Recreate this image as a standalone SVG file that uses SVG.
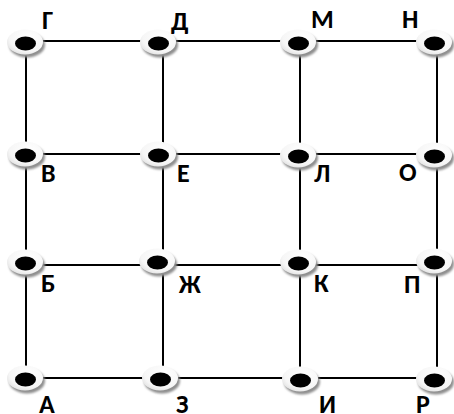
<svg xmlns="http://www.w3.org/2000/svg" width="454" height="414" viewBox="0 0 454 414">
<defs>
<radialGradient id="rg" cx="0.6" cy="0.35" r="0.75">
<stop offset="0" stop-color="#ffffff"/>
<stop offset="0.7" stop-color="#f6f6f6"/>
<stop offset="1" stop-color="#dcdcdc"/>
</radialGradient>
<filter id="blur" x="-30%" y="-30%" width="160%" height="160%"><feGaussianBlur stdDeviation="0.8"/></filter>
<g id="node">
<ellipse cx="2" cy="3" rx="18" ry="12.5" fill="#8f8f8f" filter="url(#blur)"/>
<ellipse cx="0" cy="0" rx="18" ry="12.5" fill="url(#rg)"/>
<ellipse cx="0.5" cy="1.5" rx="10.5" ry="7" fill="#000"/>
</g>
</defs>
<style>
.ln{stroke:#000;stroke-width:2;fill:none}
.lb{font-family:Carlito,Roboto,"Liberation Sans",sans-serif;font-weight:bold;font-size:26px;fill:#000}
</style>
<rect width="454" height="414" fill="#fff"/>
<g id="connectors">
<line class="ln" x1="26" y1="41" x2="437" y2="41"/>
<line class="ln" x1="26" y1="154" x2="437" y2="154"/>
<line class="ln" x1="26" y1="265" x2="437" y2="265"/>
<line class="ln" x1="26" y1="378" x2="437" y2="378"/>
<line class="ln" x1="26" y1="41" x2="26" y2="378"/>
<line class="ln" x1="163" y1="41" x2="163" y2="378"/>
<line class="ln" x1="300" y1="41" x2="300" y2="378"/>
<line class="ln" x1="437" y1="41" x2="437" y2="378"/>
</g>
<g id="n-G"><use href="#node" x="25" y="42"/><text class="lb" x="42" y="29">Г</text></g>
<g id="n-D"><use href="#node" x="158" y="42"/><text class="lb" x="171" y="30">Д</text></g>
<g id="n-M"><use href="#node" x="298" y="42"/><text class="lb" x="311" y="28">М</text></g>
<g id="n-N"><use href="#node" x="434" y="42"/><text class="lb" x="402" y="28">Н</text></g>
<g id="n-V"><use href="#node" x="25" y="154"/><text class="lb" x="41" y="182">В</text></g>
<g id="n-E"><use href="#node" x="158" y="154"/><text class="lb" x="177" y="182">Е</text></g>
<g id="n-L"><use href="#node" x="298" y="155"/><text class="lb" x="314" y="182">Л</text></g>
<g id="n-O"><use href="#node" x="434" y="155"/><text class="lb" x="399" y="181">О</text></g>
<g id="n-B"><use href="#node" x="25" y="262"/><text class="lb" x="41" y="292">Б</text></g>
<g id="n-Zh"><use href="#node" x="157" y="261"/><text class="lb" x="179" y="293">Ж</text></g>
<g id="n-K"><use href="#node" x="298" y="262"/><text class="lb" x="314" y="292">К</text></g>
<g id="n-P"><use href="#node" x="434" y="261"/><text class="lb" x="404" y="293">П</text></g>
<g id="n-A"><use href="#node" x="25" y="378"/><text class="lb" x="39" y="413">А</text></g>
<g id="n-Z"><use href="#node" x="160" y="378"/><text class="lb" x="176" y="413">З</text></g>
<g id="n-I"><use href="#node" x="300" y="379"/><text class="lb" x="319" y="413">И</text></g>
<g id="n-R"><use href="#node" x="434" y="379"/><text class="lb" x="416" y="413">Р</text></g>
</svg>
